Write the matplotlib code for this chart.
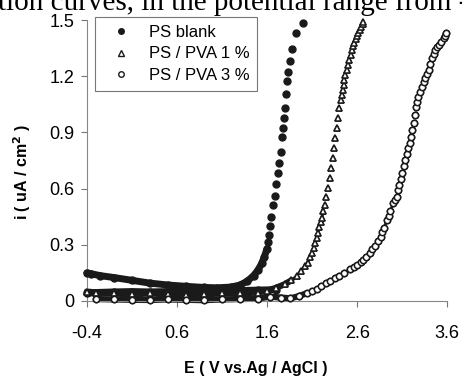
import matplotlib
matplotlib.use("Agg")
import matplotlib.pyplot as plt
import numpy as np
from matplotlib.lines import Line2D

plt.rcParams["font.family"] = ["Liberation Sans", "DejaVu Sans"]

# PS blank: flat return branch and the branch that takes off near 1.5 V
blank_base_e = [-0.40, -0.30, -0.10, 0.10, 0.30, 0.50, 0.70, 0.90, 1.10, 1.30, 1.50, 1.70]
blank_base_i = [0.040, 0.045, 0.048, 0.050, 0.048, 0.050, 0.052, 0.050, 0.052, 0.055, 0.058, 0.060]
blank_e = [-0.40, -0.35, -0.25, -0.10, 0.10, 0.30, 0.50, 0.70, 0.90, 1.05, 1.20, 1.30, 1.38,
           1.45, 1.50, 1.54, 1.57, 1.60, 1.615, 1.625, 1.635, 1.645, 1.665, 1.69, 1.704,
           1.718, 1.737, 1.752, 1.766, 1.778, 1.789, 1.796, 1.811, 1.822, 1.833, 1.855,
           1.874, 1.925, 1.996]
blank_i = [0.150, 0.145, 0.135, 0.125, 0.110, 0.095, 0.085, 0.078, 0.072, 0.070, 0.074, 0.085, 0.105,
           0.135, 0.165, 0.200, 0.235, 0.280, 0.317, 0.352, 0.400, 0.450, 0.513, 0.561, 0.625,
           0.684, 0.737, 0.796, 0.876, 0.924, 0.977, 1.030, 1.105, 1.175, 1.223, 1.281,
           1.345, 1.431, 1.484]

# PS / PVA 1 %
pva1_e = [-0.40, -0.30, -0.10, 0.10, 0.30, 0.50, 0.70, 0.90, 1.10, 1.30, 1.50, 1.60, 1.70,
          1.80, 1.87, 1.93, 1.98, 2.02, 2.05, 2.08, 2.10, 2.12, 2.135, 2.15, 2.165, 2.18,
          2.195, 2.21, 2.225, 2.24, 2.256, 2.281, 2.30, 2.314, 2.33, 2.344, 2.359, 2.374,
          2.389, 2.403, 2.418, 2.43, 2.44, 2.45, 2.456, 2.47, 2.485, 2.50, 2.514, 2.527,
          2.541, 2.555, 2.57, 2.585, 2.60, 2.615, 2.63, 2.645, 2.66, 2.67]
pva1_i = [0.050, 0.045, 0.040, 0.035, 0.040, 0.035, 0.030, 0.035, 0.040, 0.040, 0.045, 0.055, 0.070,
          0.090, 0.110, 0.135, 0.160, 0.185, 0.205, 0.235, 0.255, 0.285, 0.310, 0.335, 0.365, 0.395,
          0.420, 0.445, 0.480, 0.513, 0.554, 0.602, 0.655, 0.708, 0.762, 0.815, 0.869, 0.922,
          0.975, 1.029, 1.073, 1.100, 1.127, 1.155, 1.180, 1.205, 1.233, 1.260, 1.287, 1.312,
          1.340, 1.360, 1.380, 1.398, 1.415, 1.432, 1.447, 1.462, 1.478, 1.490]

# PS / PVA 3 %
pva3_e = [-0.30, -0.10, 0.10, 0.30, 0.50, 0.70, 0.90, 1.10, 1.30, 1.50, 1.63, 1.75, 1.86, 1.95,
          2.04, 2.10, 2.15, 2.20, 2.26, 2.30, 2.35, 2.40, 2.45, 2.52, 2.56, 2.60, 2.64, 2.67,
          2.70, 2.74, 2.77, 2.80, 2.83, 2.86, 2.88, 2.90, 2.93, 2.95, 2.97, 3.00, 3.02, 3.04,
          3.055, 3.07, 3.085, 3.10, 3.115, 3.13, 3.15, 3.17, 3.185, 3.20, 3.213,
          3.226, 3.24, 3.256, 3.27, 3.281, 3.30, 3.319, 3.337, 3.356, 3.375, 3.393, 3.41,
          3.43, 3.45, 3.467, 3.485, 3.504, 3.53, 3.56, 3.575, 3.589]
pva3_i = [0.010, 0.008, 0.006, 0.005, 0.008, 0.006, 0.004, 0.008, 0.010, 0.012, 0.023, 0.018, 0.014, 0.025,
          0.041, 0.052, 0.065, 0.078, 0.094, 0.106, 0.120, 0.134, 0.148, 0.170, 0.181, 0.192, 0.206, 0.220,
          0.236, 0.255, 0.275, 0.295, 0.318, 0.343, 0.366, 0.390, 0.432, 0.456, 0.480, 0.522, 0.540, 0.557,
          0.590, 0.619, 0.650, 0.682, 0.718, 0.753, 0.785, 0.815, 0.845, 0.877, 0.912,
          0.949, 0.993, 1.037, 1.065, 1.091, 1.118, 1.144, 1.167, 1.189, 1.211, 1.233, 1.265,
          1.296, 1.318, 1.340, 1.354, 1.367, 1.385, 1.402, 1.415, 1.429]

labels = ["PS blank", "PS / PVA 1 %", "PS / PVA 3 %"]


def draw(ax, e, i, dense_below, lw, **mk):
    e = np.array(e)
    i = np.array(i)
    low = i < dense_below
    # the dense part of the scan merges into a solid band
    ax.plot(e[low], i[low], "-", color="#1a1a1a", lw=lw, clip_on=False, zorder=2,
            solid_capstyle="round")
    ax.plot(e, i, ls="none", clip_on=False, zorder=3, **mk)


fig = plt.figure(figsize=(4.62, 3.79), dpi=100)
ax = fig.add_axes([0.188, 0.206, 0.780, 0.741])

blank_mk = dict(marker="o", ms=5, mfc="#1a1a1a", mec="#1a1a1a")
tri_mk = dict(marker="^", ms=5, mfc="white", mec="#1a1a1a", mew=1.1)
circ_mk = dict(marker="o", ms=4.5, mfc="white", mec="#1a1a1a", mew=1.1)

draw(ax, blank_base_e, blank_base_i, 0.3, 5, **blank_mk)
draw(ax, blank_e, blank_i, 0.3, 5, **blank_mk)
draw(ax, pva1_e, pva1_i, 0.12, 4.5, **tri_mk)
draw(ax, pva1_e, pva1_i, 0.5, 2, **tri_mk)
draw(ax, pva3_e, pva3_i, 0.05, 4.5, **circ_mk)
draw(ax, pva3_e, pva3_i, 0.55, 2, **circ_mk)

ax.set_xlim(-0.4, 3.6)
ax.set_ylim(0, 1.5)
ax.set_xticks([-0.4, 0.6, 1.6, 2.6, 3.6])
ax.set_xticklabels(["-0.4", "0.6", "1.6", "2.6", "3.6"])
ax.set_yticks([0, 0.3, 0.6, 0.9, 1.2, 1.5])
ax.set_yticklabels(["0", "0.3", "0.6", "0.9", "1.2", "1.5"])
ax.tick_params(labelsize=13, length=4, width=0.8, color="#777777", pad=5)
ax.tick_params(axis="x", pad=13)
for s in ["top", "right"]:
    ax.spines[s].set_visible(False)
for s in ["left", "bottom"]:
    ax.spines[s].set_color("#888888")
    ax.spines[s].set_linewidth(0.8)

ax.set_xlabel("E ( V vs.Ag / AgCl )", fontsize=11.5, fontweight="bold")
ax.xaxis.set_label_coords(0.47, -0.215)
ax.set_ylabel("i ( uA / cm$^{\\mathbf{2}}$ )", fontsize=11.5, fontweight="bold")
ax.yaxis.set_label_coords(-0.15, 0.46)

handles = [Line2D([], [], ls="none", marker="o", ms=4, mfc="#1a1a1a", mec="#1a1a1a"),
           Line2D([], [], ls="none", marker="^", ms=4.5, mfc="white", mec="#1a1a1a", mew=1.0),
           Line2D([], [], ls="none", marker="o", ms=4, mfc="white", mec="#1a1a1a", mew=1.0)]
leg = ax.legend(handles, labels, loc="upper left", bbox_to_anchor=(0.022, 1.01), fontsize=12,
                frameon=True, fancybox=False, edgecolor="#555555", handlelength=2.2,
                handletextpad=0.6, borderpad=0.45, labelspacing=0.4, borderaxespad=0)
leg.get_frame().set_linewidth(0.8)

fig.text(-0.005, 1 - 9.5 / 379, "tion curves, in the potential range from -", fontsize=21,
         family="Liberation Serif", va="baseline", ha="left")

fig.savefig("out.png", dpi=100)
